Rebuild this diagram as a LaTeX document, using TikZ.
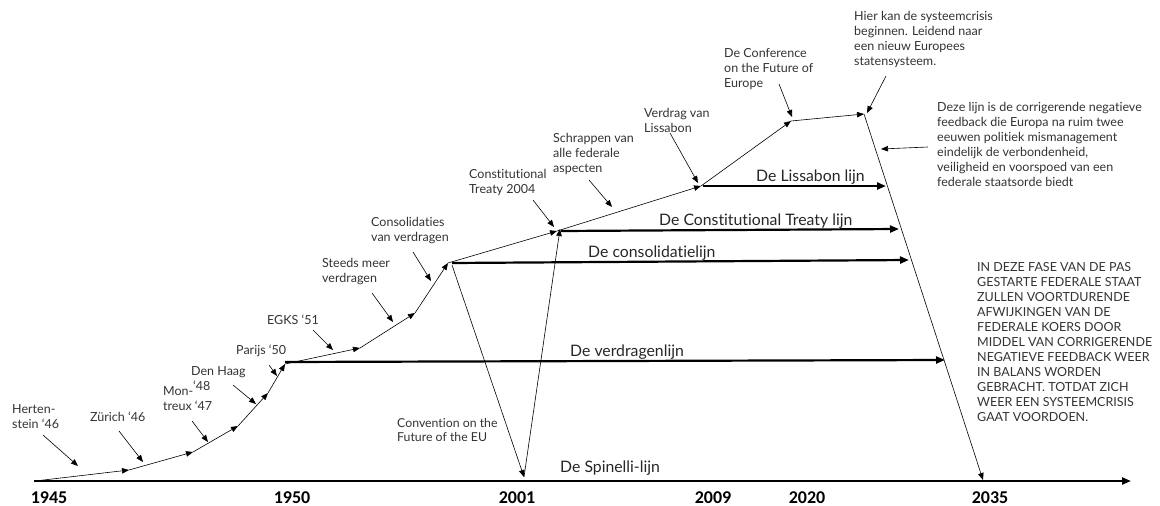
\documentclass[tikz,border=0pt]{standalone}
\usepackage{fontspec}
\setmainfont{Lato}[Ligatures=NoCommon]
\newfontfamily\yearfont{Carlito}
\usetikzlibrary{arrows.meta}
\begin{document}
\begin{tikzpicture}[x=1pt,y=-1pt,
  thinarr/.style={line width=0.6pt,-{Triangle[length=7pt,width=5.5pt]}},
  thickarr/.style={line width=2.2pt,-{Triangle[length=9pt,width=7pt]}},
  lbl/.style={inner sep=0pt,anchor=north west,align=left,font=\fontsize{12.5}{15}\selectfont,text=black!80},
  linelbl/.style={inner sep=0pt,anchor=west,font=\fontsize{15.8}{18}\selectfont,text=black!85},
  yearlbl/.style={inner sep=0pt,anchor=base,font=\yearfont\bfseries\fontsize{18}{20}\selectfont}]
\useasboundingbox (0,0) rectangle (1160,506);
% curve points
\coordinate (p0) at (35,481);
\coordinate (p1) at (129,470);
\coordinate (p2) at (193,452);
\coordinate (p3) at (238,426);
\coordinate (p4) at (268,393);
\coordinate (p5) at (285,364);
\coordinate (p6) at (360,348);
\coordinate (p7) at (415,313);
\coordinate (p8) at (448,263);
\coordinate (p9) at (557,231);
\coordinate (p10) at (701,186);
\coordinate (p11) at (791,121);
\coordinate (p12) at (864,114);
\coordinate (v) at (524,477);
\coordinate (vtop) at (452,265);
\coordinate (ctop) at (560,229);
\coordinate (s) at (983,480);
% axis
\coordinate (ax0) at (34,481);
\coordinate (ax1) at (1131,481);
\draw[thickarr] (ax0) -- (ax1);
% thick lines
\coordinate (vl0) at (285,362); \coordinate (vl1) at (945,360);
\coordinate (cl0) at (452,263); \coordinate (cl1) at (909,260);
\coordinate (tl0) at (561,231); \coordinate (tl1) at (899,229);
\coordinate (ll0) at (703,186); \coordinate (ll1) at (886,186);
\draw[thickarr] (vl0) -- (vl1);
\draw[thickarr] (cl0) -- (cl1);
\draw[thickarr] (tl0) -- (tl1);
\draw[thickarr] (ll0) -- (ll1);
% curve
\foreach \a/\b in {p0/p1,p1/p2,p2/p3,p3/p4,p4/p5,p5/p6,p6/p7,p7/p8,p8/p9,p9/p10,p10/p11,p11/p12}
  \draw[thinarr] (\a) -- (\b);
\draw[thinarr] (vtop) -- (v);
\draw[thinarr] (v) -- (ctop);
\draw[thinarr] (p12) -- (s);
% labels
\node[lbl] (herten) at (12,404) {Herten-\\stein ‘46};
\node[lbl] (zurich) at (90,412) {Zürich ‘46};
\node[lbl] (montreux) at (163,386) {Mon-\\treux ‘47};
\node[lbl] (denhaag) at (191,366) {Den Haag\\\hspace*{2pt}‘48};
\node[lbl] (parijs) at (236,345) {Parijs ‘50};
\node[lbl] (egks) at (267,315) {EGKS ‘51};
\node[lbl] (steeds) at (322,258) {Steeds meer\\verdragen};
\node[lbl] (consol) at (371,217) {Consolidaties\\van verdragen};
\node[lbl] (ct) at (469,169) {Constitutional\\Treaty 2004};
\node[lbl] (schrap) at (553,133) {Schrappen van\\alle federale\\aspecten};
\node[lbl] (verdrag) at (644,108) {Verdrag van\\Lissabon};
\node[lbl] (conf) at (724,48) {De Conference\\on the Future of\\Europe};
\node[lbl] (hier) at (854,11) {Hier kan de systeemcrisis\\beginnen. Leidend naar\\een nieuw Europees\\statensysteem.};
\node[lbl] (deze) at (937,102) {Deze lijn is de corrigerende negatieve\\feedback die Europa na ruim twee\\eeuwen politiek mismanagement\\eindelijk de verbondenheid,\\veiligheid en voorspoed van een\\federale staatsorde biedt};
\node[lbl,font=\fontsize{12.3}{14}\selectfont] (conv) at (397,418) {Convention on the\\Future of the EU};
\node[lbl] (fase) at (977,262) {IN DEZE FASE VAN DE PAS\\GESTARTE FEDERALE STAAT\\ZULLEN VOORTDURENDE\\AFWIJKINGEN VAN DE\\FEDERALE KOERS DOOR\\MIDDEL VAN CORRIGERENDE\\NEGATIEVE FEEDBACK WEER\\IN BALANS WORDEN\\GEBRACHT. TOTDAT ZICH\\WEER EEN SYSTEEMCRISIS\\GAAT VOORDOEN.};
% line labels
\node[linelbl] (spin) at (560,468) {De Spinelli-lijn};
\node[linelbl] (verdl) at (570,352) {De verdragenlijn};
\node[linelbl] (consl) at (588,253) {De consolidatielijn};
\node[linelbl] (ctl) at (659,221) {De Constitutional Treaty lijn};
\node[linelbl] (lisl) at (756,177) {De Lissabon lijn};
% years
\node[yearlbl] (y1945) at (49,503) {1945};
\node[yearlbl] (y1950) at (292,503) {1950};
\node[yearlbl] (y2001) at (517,503) {2001};
\node[yearlbl] (y2009) at (713,503) {2009};
\node[yearlbl] (y2020) at (807,503) {2020};
\node[yearlbl] (y2035) at (990,503) {2035};
% callout arrows
\coordinate (a1) at (43,435); \coordinate (b1) at (78,466);
\coordinate (a2) at (119,431); \coordinate (b2) at (143,462);
\coordinate (a3) at (192,421); \coordinate (b3) at (208,442);
\coordinate (a4) at (233,385); \coordinate (b4) at (256,404);
\coordinate (a5) at (269,365); \coordinate (b5) at (277,376);
\coordinate (a6) at (313,330); \coordinate (b6) at (333,350);
\coordinate (a7) at (372,293); \coordinate (b7) at (393,322);
\coordinate (a8) at (413,252); \coordinate (b8) at (431,281);
\coordinate (a9) at (533,200); \coordinate (b9) at (554,227);
\coordinate (a10) at (589,180); \coordinate (b10) at (612,207);
\coordinate (a11) at (670,133); \coordinate (b11) at (698,183);
\coordinate (a12) at (779,84); \coordinate (b12) at (792,117);
\coordinate (a13) at (886,76); \coordinate (b13) at (867,113);
\coordinate (a14) at (928,147); \coordinate (b14) at (881,149);
\foreach \i in {1,...,14} \draw[thinarr] (a\i) -- (b\i);
\end{tikzpicture}
\end{document}
